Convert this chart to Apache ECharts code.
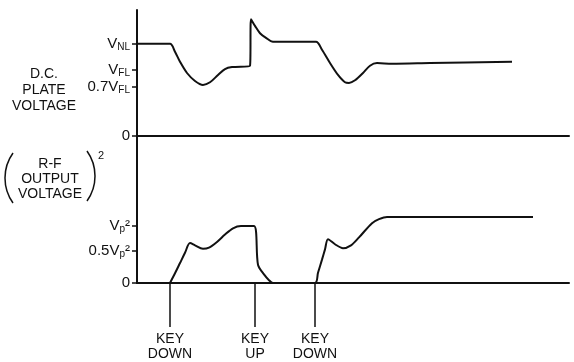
<!DOCTYPE html>
<html lang="en">
<head>
  <meta charset="UTF-8">
  <title>Plate voltage and R-F output</title>
  <style>
    html, body { margin: 0; padding: 0; background: #fff; }
    #myEcharts { width: 574px; height: 362px; }
  </style>
  <script src="https://cdn.jsdelivr.net/npm/echarts@6/dist/echarts.min.js"></script>
</head>
<body>
  <div id="myEcharts"></div>
  <script>
    // time axis is arbitrary (0..432), values in units of V_FL and V_p^2
    // upper trace: D.C. plate voltage
    var plateTime = [0, 33, 38, 43, 50, 58, 66, 73, 81, 88, 95, 113, 114, 118, 123, 129, 136, 179,
      185, 193, 201, 208, 212, 218, 226, 233, 240, 255, 293, 375];
    var plateVolt = [1.39, 1.39, 1.27, 1.12, 0.95, 0.83, 0.77, 0.81, 0.92, 1.01, 1.04, 1.06, 1.76, 1.66, 1.55, 1.48, 1.42, 1.42,
      1.30, 1.10, 0.92, 0.81, 0.80, 0.84, 0.95, 1.06, 1.10, 1.09, 1.10, 1.12];
    // lower trace: (R-F output voltage)^2
    var rfTime = [33, 38, 43, 48, 53, 58, 66, 72, 80, 88, 96, 104, 117, 121, 127, 132, 136, 178,
      181, 185, 188, 191, 198, 206, 214, 222, 235, 242, 250, 396];
    var rfPower = [0, 0.17, 0.35, 0.53, 0.70, 0.66, 0.60, 0.62, 0.72, 0.85, 0.96, 1.0, 1.0, 0.32, 0.15, 0.05, 0, 0,
      0.18, 0.41, 0.59, 0.77, 0.68, 0.61, 0.66, 0.80, 1.05, 1.12, 1.16, 1.16];

    var plateTicks = [0, 0.74, 1.0, 1.39];
    var plateTickLabels = ['0', '0.7V{s|FL}', 'V{s|FL}', 'V{s|NL}'];
    var rfTicks = [0, 0.56, 1.0];
    var rfTickLabels = ['0', '0.5V{s|p}²', 'V{s|p}²'];
    var keyTimes = [33, 118, 178];
    var keyLabels = ['KEY\nDOWN', 'KEY\nUP', 'KEY\nDOWN'];

    function pairs(xs, ys) {
      return xs.map(function (x, i) { return [x, ys[i]]; });
    }
    function lookup(vals, labels) {
      return function (v) {
        for (var i = 0; i < vals.length; i++) {
          if (Math.abs(vals[i] - v) < 1e-6) return labels[i];
        }
        return '';
      };
    }

    var font = 'Liberation Sans';
    var ink = '#111';
    var richSub = {
      s: { fontSize: 10, fontFamily: font, color: ink, verticalAlign: 'bottom', padding: [7, 0, 0, 0] }
    };

    var myChart = echarts.init(document.getElementById('myEcharts'));
    var option = {
      animation: false,
      backgroundColor: '#fff',
      grid: [
        { left: 137, right: 5, top: 10, height: 126 },
        { left: 137, right: 5, top: 136, height: 147 }
      ],
      xAxis: [
        {
          gridIndex: 0, type: 'value', min: 0, max: 432,
          axisLine: { lineStyle: { color: ink, width: 2 } },
          axisTick: { show: false }, axisLabel: { show: false }, splitLine: { show: false }
        },
        {
          gridIndex: 1, type: 'value', min: 0, max: 432,
          axisLine: { lineStyle: { color: ink, width: 2 } },
          axisTick: { show: true, length: 44, customValues: keyTimes, lineStyle: { color: ink, width: 1.5 } },
          axisLabel: {
            show: true, customValues: keyTimes, margin: 49,
            formatter: lookup(keyTimes, keyLabels),
            fontFamily: font, fontSize: 14, color: ink, lineHeight: 15
          },
          splitLine: { show: false }
        }
      ],
      yAxis: [
        {
          gridIndex: 0, type: 'value', min: 0, max: 1.9,
          axisLine: { show: true, lineStyle: { color: ink, width: 2 } },
          axisTick: { show: true, length: 5, customValues: plateTicks, lineStyle: { color: ink, width: 1.5 } },
          axisLabel: {
            customValues: plateTicks, margin: 7,
            formatter: lookup(plateTicks, plateTickLabels),
            fontFamily: font, fontSize: 15, color: ink, rich: richSub
          },
          splitLine: { show: false }
        },
        {
          gridIndex: 1, type: 'value', min: 0, max: 2.58,
          axisLine: { show: true, lineStyle: { color: ink, width: 2 } },
          axisTick: { show: true, length: 5, customValues: rfTicks, lineStyle: { color: ink, width: 1.5 } },
          axisLabel: {
            customValues: rfTicks, margin: 7,
            formatter: lookup(rfTicks, rfTickLabels),
            fontFamily: font, fontSize: 15, color: ink, rich: richSub
          },
          splitLine: { show: false }
        }
      ],
      series: [
        {
          name: 'D.C. plate voltage', type: 'line', xAxisIndex: 0, yAxisIndex: 0,
          data: pairs(plateTime, plateVolt), smooth: 0.3,
          showSymbol: false, lineStyle: { color: ink, width: 2 }
        },
        {
          name: '(R-F output voltage)^2', type: 'line', xAxisIndex: 1, yAxisIndex: 1,
          data: pairs(rfTime, rfPower), smooth: 0.3,
          showSymbol: false, lineStyle: { color: ink, width: 2 }
        }
      ],
      graphic: [
        {
          type: 'text', x: 44, y: 66,
          style: { text: 'D.C.\nPLATE\nVOLTAGE', font: '14px "Liberation Sans"', fill: ink, align: 'center', lineHeight: 16 }
        },
        {
          type: 'text', x: 50, y: 157,
          style: { text: 'R-F\nOUTPUT\nVOLTAGE', font: '14px "Liberation Sans"', fill: ink, align: 'center', lineHeight: 15 }
        },
        {
          type: 'arc', shape: { cx: 48, cy: 178, r: 43, startAngle: Math.PI - 0.62, endAngle: Math.PI + 0.62 },
          style: { stroke: ink, lineWidth: 1.5, fill: null }
        },
        {
          type: 'arc', shape: { cx: 52, cy: 176, r: 43, startAngle: -0.62, endAngle: 0.62 },
          style: { stroke: ink, lineWidth: 1.5, fill: null }
        },
        {
          type: 'text', x: 98, y: 150,
          style: { text: '2', font: '11px "Liberation Sans"', fill: ink }
        }
      ]
    };
    myChart.setOption(option);
  </script>
</body>
</html>
